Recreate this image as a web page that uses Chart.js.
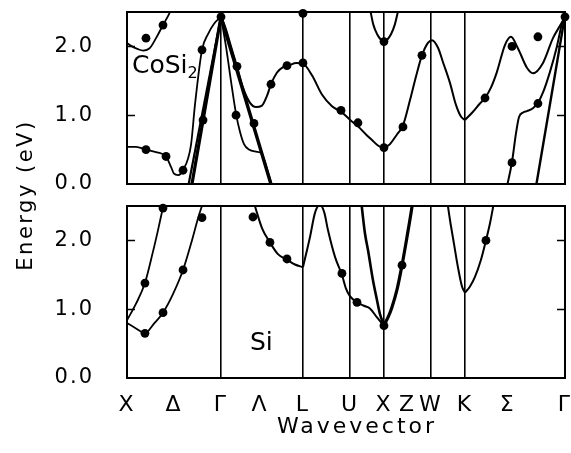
<!DOCTYPE html>
<html>
<head>
<meta charset="utf-8">
<script src="https://cdn.jsdelivr.net/npm/chart.js@4.4.1/dist/chart.umd.min.js"></script>
<style>
html,body{margin:0;padding:0;background:#fff;}
#wrap{position:relative;width:571px;height:453px;overflow:hidden;background:#fff;}
#c1{position:absolute;left:0;top:0;}
#c2{position:absolute;left:0;top:194px;}
.lbl{position:absolute;font-family:"DejaVu Sans";color:#000;line-height:1;white-space:nowrap;}
#ytitle{position:absolute;left:-72px;top:180px;width:200px;height:30px;line-height:30px;text-align:center;transform:rotate(-90deg);font:21px "DejaVu Sans";letter-spacing:2.5px;color:#000;}
#xtitle{position:absolute;left:257px;top:415px;width:200px;text-align:center;font:22px "DejaVu Sans";line-height:1;letter-spacing:3px;color:#000;}
</style>
</head>
<body>
<div id="wrap">
  <canvas id="c1" width="571" height="194"></canvas>
  <canvas id="c2" width="571" height="259"></canvas>
  <div id="ytitle">Energy (eV)</div>
  <div id="xtitle">Wavevector</div>
  <div class="lbl" style="left:132px;top:52px;font-size:25px;">CoSi<span style="font-size:16px;position:relative;top:5px;">2</span></div>
  <div class="lbl" style="left:250px;top:329px;font-size:25px;">Si</div>
</div>
<script>
// ---- axes ----
const xTickPos    = [0, 0.5, 1.0, 1.415, 1.872, 2.372, 2.734, 2.984, 3.234, 3.596, 4.05, 4.66];
const xTickLabels = ['X', 'Δ', 'Γ', 'Λ', 'L', 'U', 'X', 'Z', 'W', 'K', 'Σ', 'Γ'];
const xTickIsLine = [true, false, true, false, true, true, true, false, true, true, false, true];
const yTicks = [0, 1, 2];
const yMax = 2.5;
const kMax = 4.66;

// ---- CoSi2 bands: [k, E(eV)] ----
const cosi2BandA = [[0,0.54],[0.096,0.54],[0.202,0.50],[0.319,0.46],[0.415,0.40],[0.468,0.25],[0.5,0.15],[0.543,0.13],[0.596,0.20],[0.681,0.57],[0.723,1.15],[0.798,1.95],[0.862,2.18],[0.926,2.33],[1.0,2.43]];
const cosi2BandB = [[0,2.05],[0.053,2.0],[0.117,1.96],[0.17,1.94],[0.245,1.98],[0.309,2.12],[0.383,2.31],[0.436,2.44],[0.479,2.56]];
const cosi2LineXG1 = [[0.649,-0.05],[1.0,2.43]];
const cosi2LineXG2 = [[0.681,-0.08],[1.0,2.43]];
const cosi2BandC1 = [[1.0,2.43],[1.053,2.25],[1.106,2.0],[1.17,1.71],[1.234,1.40],[1.309,1.18],[1.372,1.12],[1.436,1.14],[1.489,1.28],[1.532,1.45],[1.596,1.62],[1.66,1.70],[1.734,1.73],[1.798,1.76],[1.872,1.75],[1.968,1.58],[2.074,1.30],[2.181,1.13],[2.287,1.04],[2.383,0.92],[2.457,0.84],[2.543,0.72],[2.606,0.64],[2.67,0.56],[2.734,0.52]];
const cosi2BandC2 = [[2.734,0.52],[2.798,0.58],[2.872,0.72],[2.936,0.85],[3.011,1.22],[3.074,1.56],[3.138,1.87],[3.191,2.03],[3.245,2.09],[3.309,1.98],[3.362,1.77],[3.436,1.47],[3.5,1.15],[3.553,0.98],[3.596,0.93]];
const cosi2BandC3 = [[3.596,0.93],[3.681,1.05],[3.755,1.17],[3.809,1.25],[3.872,1.40],[3.936,1.63],[4.021,2.02],[4.085,2.14],[4.16,1.97],[4.255,1.69],[4.319,1.61],[4.426,1.76],[4.532,2.12],[4.628,2.35],[4.66,2.43]];
const cosi2BandD = [[1.0,2.43],[1.053,2.0],[1.106,1.5],[1.16,1.02],[1.202,0.76],[1.245,0.58],[1.298,0.50],[1.372,0.47],[1.426,0.45],[1.468,0.32],[1.5,0.17],[1.532,0.02],[1.55,-0.1]];
const cosi2LineGL = [[1.0,2.43],[1.553,-0.1]];
const cosi2BandE = [[2.585,2.55],[2.62,2.32],[2.66,2.18],[2.70,2.10],[2.734,2.07],[2.77,2.10],[2.81,2.18],[2.85,2.32],[2.89,2.55]];
const cosi2BandF = [[4.04,-0.05],[4.096,0.32],[4.14,0.75],[4.17,0.97],[4.215,1.04],[4.255,1.06],[4.319,1.10],[4.372,1.18],[4.426,1.33],[4.5,1.63],[4.574,2.0],[4.628,2.33],[4.66,2.43]];
const cosi2LineKG = [[4.35,-0.05],[4.66,2.45]];
const cosi2Dots = [[0.202,0.50],[0.415,0.40],[0.596,0.20],[0.798,1.95],[0.809,0.93],[0.202,2.12],[0.383,2.31],[1.0,2.43],[1.17,1.71],[1.16,1.00],[1.351,0.88],[1.532,1.45],[1.702,1.72],[1.872,1.76],[1.872,2.48],[2.277,1.07],[2.457,0.89],[2.734,0.53],[2.734,2.07],[2.936,0.83],[3.138,1.87],[3.809,1.25],[4.096,2.0],[4.372,2.14],[4.096,0.31],[4.372,1.17],[4.66,2.43]];

// ---- Si bands: [k, E(eV)] ----
const siBand1 = [[0,0.80],[0.096,0.72],[0.191,0.65],[0.287,0.79],[0.383,0.95],[0.489,1.22],[0.596,1.57],[0.691,2.0],[0.755,2.32],[0.809,2.55]];
const siBand2 = [[0,0.84],[0.096,1.08],[0.191,1.38],[0.277,1.84],[0.33,2.15],[0.383,2.48],[0.404,2.6]];
const siBand3a = [[1.34,2.6],[1.372,2.45],[1.436,2.18],[1.521,1.97],[1.606,1.80],[1.702,1.72],[1.787,1.65],[1.872,1.61]];
const siBand3b = [[1.872,1.61],[1.947,2.05],[2.0,2.4],[2.053,2.52],[2.1,2.4],[2.138,2.15],[2.213,1.76],[2.287,1.50],[2.33,1.30],[2.372,1.19],[2.447,1.10],[2.52,1.05],[2.585,1.01],[2.66,0.88],[2.734,0.76]];
const siBand4a = [[2.489,2.6],[2.532,2.1],[2.564,1.86],[2.617,1.42],[2.66,1.13],[2.691,0.93],[2.734,0.77]];
const siBand4b = [[2.734,0.77],[2.777,0.88],[2.819,1.03],[2.872,1.28],[2.926,1.64],[2.979,2.05],[3.032,2.49],[3.043,2.6]];
const siBand5a = [[3.404,2.6],[3.436,2.3],[3.479,1.95],[3.521,1.61],[3.564,1.33],[3.596,1.24]];
const siBand5b = [[3.596,1.24],[3.649,1.33],[3.702,1.47],[3.766,1.72],[3.819,2.0],[3.862,2.25],[3.904,2.55]];
const siDots = [[0.191,0.65],[0.383,0.95],[0.596,1.57],[0.798,2.33],[0.191,1.38],[0.383,2.47],[1.34,2.34],[1.521,1.97],[1.702,1.73],[2.287,1.52],[2.447,1.10],[2.734,0.76],[2.926,1.64],[3.819,2.0]];

// ---- helpers ----
const toXY = arr => arr.map(([x, y]) => ({x, y}));
function band(arr, w) {
  return {type:'line', data:toXY(arr), borderColor:'#000', borderWidth:w, pointRadius:0,
          fill:false, cubicInterpolationMode:'monotone', clip:0};
}
function dots(arr) {
  return {type:'scatter', data:toXY(arr), pointRadius:4.4, pointBackgroundColor:'#000',
          pointBorderColor:'#000', pointBorderWidth:0, showLine:false, clip:false};
}
function zeroPad(s) { s.paddingTop = 0; s.paddingBottom = 0; s.paddingLeft = 0; s.paddingRight = 0; }

const spacingPlugin = {id:'spacing', beforeDraw(chart){ chart.ctx.letterSpacing = '2px'; }};
const framePlugin = {
  id:'frame',
  afterDraw(chart){
    const {ctx, chartArea:a, scales:{y}} = chart;
    ctx.save();
    ctx.strokeStyle = '#000';
    ctx.lineWidth = 2;
    ctx.strokeRect(a.left, a.top, a.width, a.height);
    ctx.lineWidth = 1.5;
    yTicks.filter(v => v > 0).forEach(v => {
      const py = Math.round(y.getPixelForValue(v)) + 0.5;
      ctx.beginPath();
      ctx.moveTo(a.left, py); ctx.lineTo(a.left + 8, py);
      ctx.moveTo(a.right, py); ctx.lineTo(a.right - 8, py);
      ctx.stroke();
    });
    ctx.restore();
  }
};

function makeOptions(showX) {
  return {
    responsive:false, animation:false, devicePixelRatio:1,
    layout:{autoPadding:false, padding:{left:0, right:6, top:12, bottom:0}},
    plugins:{legend:{display:false}, tooltip:{enabled:false}},
    scales:{
      x:{
        type:'linear', min:0, max:kMax,
        afterBuildTicks: s => { s.ticks = xTickPos.map(v => ({value:v})); },
        afterFit: s => { s.height = showX ? 75 : 10; zeroPad(s); },
        grid:{drawTicks:false, lineWidth:1.6,
              color: c => (xTickIsLine[c.index] ? '#000' : 'rgba(0,0,0,0)')},
        border:{display:false},
        ticks:{display:showX, maxRotation:0, autoSkip:false, padding:14, color:'#000',
               font:{family:'DejaVu Sans', size:22},
               callback:(v, i) => xTickLabels[i]},
        title:{display:false}
      },
      y:{
        type:'linear', min:0, max:yMax,
        afterBuildTicks: s => { s.ticks = yTicks.map(v => ({value:v})); },
        afterFit: s => { s.width = 127; zeroPad(s); },
        grid:{display:false, drawTicks:false},
        border:{display:false},
        ticks:{padding:33, color:'#000', font:{family:'DejaVu Sans', size:21},
               callback: v => v.toFixed(1)}
      }
    }
  };
}

new Chart(document.getElementById('c1'), {
  type:'line',
  data:{datasets:[
    band(cosi2BandA, 1.8), band(cosi2BandB, 1.8),
    band(cosi2LineXG1, 2.2), band(cosi2LineXG2, 3.2),
    band(cosi2BandC1, 2), band(cosi2BandC2, 2), band(cosi2BandC3, 2),
    band(cosi2BandD, 1.8), band(cosi2LineGL, 3.4),
    band(cosi2BandE, 2), band(cosi2BandF, 2), band(cosi2LineKG, 2.4),
    dots(cosi2Dots)
  ]},
  options: makeOptions(false),
  plugins:[spacingPlugin, framePlugin]
});

new Chart(document.getElementById('c2'), {
  type:'line',
  data:{datasets:[
    band(siBand1, 1.8), band(siBand2, 1.8),
    band(siBand3a, 2), band(siBand3b, 2),
    band(siBand4a, 2.6), band(siBand4b, 3.2),
    band(siBand5a, 2), band(siBand5b, 2),
    dots(siDots)
  ]},
  options: makeOptions(true),
  plugins:[spacingPlugin, framePlugin]
});
</script>
</body>
</html>
